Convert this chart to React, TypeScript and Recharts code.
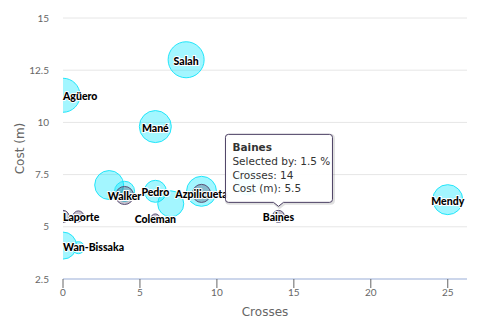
import React from 'react';
import { ScatterChart, Scatter, XAxis, YAxis, ZAxis, CartesianGrid, LabelList } from 'recharts';

// Cyan series
const cyanNames = ['Salah', 'Agüero', 'Mané', 'Mendy', '', '', 'Pedro', '', '', '', 'Wan-Bissaka', ''];
const cyanCrosses = [8, 0, 6, 25, 3, 4, 6, 7, 9, 12, 0, 1];
const cyanCost = [13, 11.3, 9.8, 6.3, 7.0, 6.7, 6.7, 6.1, 6.7, 7.1, 4.1, 4.0];
const cyanSelected = [19.8, 17.6, 15.5, 13.5, 12.5, 5.6, 6.9, 10, 13.5, 8.4, 10.8, 1.5];

// Grey series
const greyNames = ['Walker', 'Azpilicueta', 'Laporte', '', 'Coleman', 'Baines'];
const greyCrosses = [4, 9, 0, 1, 6, 14];
const greyCost = [6.5, 6.6, 5.5, 5.5, 5.4, 5.5];
const greySelected = [4.4, 4.4, 1.5, 1.1, 0.5, 1.5];

const xTicks = [0, 5, 10, 15, 20, 25];
const yTicks = [2.5, 5, 7.5, 10, 12.5, 15];
const tooltipPlayer = 'Baines';

type Pt = { name: string; x: number; y: number; z: number };
const build = (n: string[], x: number[], y: number[], z: number[]): Pt[] =>
  n.map((name, i) => ({ name, x: x[i], y: y[i], z: z[i] }));

const cyanData = build(cyanNames, cyanCrosses, cyanCost, cyanSelected);
const greyData = build(greyNames, greyCrosses, greyCost, greySelected);

const LABEL_FONT = 'Lato, "Open Sans", sans-serif';
const TEXT_FONT = '"DejaVu Sans", sans-serif';
const GREY = '#4b3f63';

const makeLabel = (data: Pt[]) => (props: any) => {
  const vb = props.viewBox ?? props;
  const d = data[props.index];
  if (!d || !d.name || vb == null) return null;
  const cx = vb.x + vb.width / 2;
  const cy = vb.y + vb.height / 2;
  const atLeft = d.x === 0;
  const label = (
    <text
      x={cx}
      y={cy + 1}
      textAnchor={atLeft ? 'start' : 'middle'}
      dominantBaseline="central"
      fontFamily={LABEL_FONT}
      fontWeight={900}
      fontSize={10.5}
      fill="#000"
      stroke="#fff"
      strokeWidth={2}
      strokeLinejoin="round"
      paintOrder="stroke"
    >
      {d.name}
    </text>
  );
  if (d.name !== tooltipPlayer) return <g key={props.index}>{label}</g>;
  const left = cx - 53;
  const right = cx + 54;
  const top = cy - 82;
  const bottom = cy - 14;
  const tipY = cy - 10;
  const r = 3;
  const path = `M ${left + r} ${top} L ${right - r} ${top} Q ${right} ${top} ${right} ${top + r} L ${right} ${bottom - r} Q ${right} ${bottom} ${right - r} ${bottom} L ${cx + 5} ${bottom} L ${cx} ${tipY} L ${cx - 5} ${bottom} L ${left + r} ${bottom} Q ${left} ${bottom} ${left} ${bottom - r} L ${left} ${top + r} Q ${left} ${top} ${left + r} ${top} Z`;
  const tx = left + 7;
  return (
    <g key={props.index}>
      {label}
      <path d={path} transform="translate(1,1)" fill="none" stroke="rgba(0,0,0,0.12)" strokeWidth={3} />
      <path d={path} fill="rgba(255,255,255,0.92)" stroke={GREY} strokeWidth={1} />
      <text x={tx} y={top + 17} fontFamily={TEXT_FONT} fontSize={10.5} fontWeight="bold" fill="#333">{d.name}</text>
      <text x={tx} y={top + 31} fontFamily={TEXT_FONT} fontSize={10.5} fill="#333">{`Selected by: ${d.z} %`}</text>
      <text x={tx} y={top + 44.5} fontFamily={TEXT_FONT} fontSize={10.5} fill="#333">{`Crosses: ${d.x}`}</text>
      <text x={tx} y={top + 58} fontFamily={TEXT_FONT} fontSize={10.5} fill="#333">{`Cost (m): ${d.y}`}</text>
    </g>
  );
};

const XTitle = (props: any) => {
  const vb = props.viewBox;
  return (
    <text x={vb.x + vb.width / 2} y={vb.y + 33} textAnchor="middle" dominantBaseline="central" fontFamily={TEXT_FONT} fontSize={12} fill="#666">
      Crosses
    </text>
  );
};

const YTitle = (props: any) => {
  const vb = props.viewBox;
  const cy = vb.y + vb.height / 2;
  return (
    <text x={20} y={cy} transform={`rotate(-90, 20, ${cy})`} textAnchor="middle" dominantBaseline="central" fontFamily={TEXT_FONT} fontSize={12} fill="#666">
      Cost (m)
    </text>
  );
};

export default function App() {
  return (
    <div style={{ position: 'absolute', left: 0, top: 0, width: 500, height: 336, background: '#fff' }}>
      <ScatterChart width={500} height={336} margin={{ top: 18, right: 33, bottom: 0, left: 0 }}>
        <CartesianGrid vertical={false} stroke="#e6e6e6" />
        <XAxis
          type="number"
          dataKey="x"
          domain={[0, 26.25]}
          ticks={xTicks}
          allowDataOverflow
          height={57}
          axisLine={{ stroke: '#ccd6eb', strokeWidth: 2 }}
          tickLine={{ stroke: '#666' }}
          tickSize={9}
          tickMargin={1}
          tick={{ fill: '#666', fontSize: 10, fontFamily: LABEL_FONT }}
          label={<XTitle />}
        />
        <YAxis
          type="number"
          dataKey="y"
          domain={[2.5, 15]}
          ticks={yTicks}
          allowDataOverflow
          width={63}
          axisLine={false}
          tickLine={false}
          tickSize={6}
          tickMargin={8}
          tick={{ fill: '#666', fontSize: 10, fontFamily: LABEL_FONT }}
          label={<YTitle />}
        />
        <ZAxis type="number" dataKey="z" domain={[0.5, 19.8]} range={[Math.PI * 20.25, Math.PI * 324]} />
        <Scatter data={cyanData} fill="#00e5ff" fillOpacity={0.36} stroke="#22e6fa" strokeWidth={1} isAnimationActive={false}>
          <LabelList dataKey="name" content={makeLabel(cyanData)} />
        </Scatter>
        <Scatter data={greyData} fill={GREY} fillOpacity={0.33} stroke="#5b5075" strokeWidth={1} isAnimationActive={false}>
          <LabelList dataKey="name" content={makeLabel(greyData)} />
        </Scatter>
      </ScatterChart>
    </div>
  );
}
